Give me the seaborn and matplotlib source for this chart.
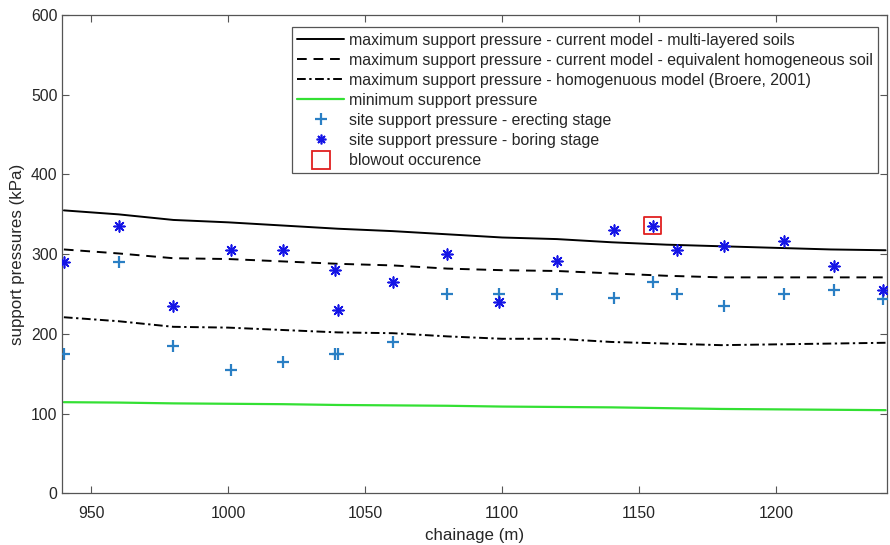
import matplotlib
matplotlib.use("Agg")
import matplotlib.pyplot as plt
from matplotlib.lines import Line2D
import seaborn as sns
import pandas as pd

# ---- data ----
chainage_model = [940, 960, 980, 1000, 1020, 1040, 1060, 1080, 1100, 1120,
                  1140, 1160, 1180, 1200, 1220, 1240]
max_multilayer = [355, 350, 343, 340, 336, 332, 329, 325, 321, 319,
                  315, 312, 310, 308, 306, 305]
max_equivalent = [306, 301, 295, 294, 291, 288, 286, 282, 280, 279,
                  276, 273, 271, 271, 271, 271]
max_broere = [221, 216, 209, 208, 205, 202, 201, 197, 194, 194,
              190, 188, 186, 187, 188, 189]
min_support = [114.5, 114, 113, 112.5, 112, 111, 110.5, 110, 109, 108.5,
               108, 107, 106, 105.5, 105, 104.5]

chainage_site = [940, 960, 980, 1001, 1020, 1039, 1040, 1060, 1080, 1099,
                 1120, 1141, 1155, 1164, 1181, 1203, 1221, 1239]
site_erecting = [175, 290, 185, 155, 165, 175, 175, 190, 250, 250,
                 250, 245, 265, 250, 235, 250, 255, 244]
site_boring = [290, 335, 235, 305, 305, 280, 230, 265, 300, 240,
               291, 330, 336, 305, 310, 316, 285, 255]

blowout_chainage = [1155]
blowout_pressure = [336]

labels = [
    "maximum support pressure - current model - multi-layered soils",
    "maximum support pressure - current model - equivalent homogeneous soil",
    "maximum support pressure - homogenuous model (Broere, 2001)",
    "minimum support pressure",
    "site support pressure - erecting stage",
    "site support pressure - boring stage",
    "blowout occurence",
]

# ---- style ----
sns.set_style("ticks")
plt.rcParams["font.family"] = ["Liberation Sans", "DejaVu Sans"]
axc = "#262626"
plt.rcParams.update({
    "axes.edgecolor": "#555555",
    "xtick.color": "#555555",
    "ytick.color": "#555555",
    "xtick.labelcolor": axc,
    "ytick.labelcolor": axc,
    "axes.labelcolor": axc,
    "xtick.direction": "in",
    "ytick.direction": "in",
})

fig = plt.figure(figsize=(8.9, 5.45), dpi=100)
ax = fig.add_axes([0.0702, 0.0945, 0.9264, 0.878])

dm = pd.DataFrame({"x": chainage_model, "a": max_multilayer, "b": max_equivalent,
                   "c": max_broere, "d": min_support})
ds = pd.DataFrame({"x": chainage_site, "e": site_erecting, "f": site_boring})
db = pd.DataFrame({"x": blowout_chainage, "y": blowout_pressure})

dash = (0, (5, 3.5))
dashdot = (0, (4.5, 1.8, 1.2, 1.8))
green = "#33e033"

sns.lineplot(data=dm, x="x", y="a", ax=ax, color="black", lw=1.4, ls="-")
sns.lineplot(data=dm, x="x", y="b", ax=ax, color="black", lw=1.4, ls=dash)
sns.lineplot(data=dm, x="x", y="c", ax=ax, color="black", lw=1.4, ls=dashdot)
sns.lineplot(data=dm, x="x", y="d", ax=ax, color=green, lw=1.6, ls="-")

plus_c = "#2a7fc4"
star_c = "#1515e6"
ast = (8, 2, 0)
sns.scatterplot(data=ds, x="x", y="e", ax=ax, marker="+", color=plus_c, s=70,
                linewidth=1.6, zorder=3)
sns.scatterplot(data=ds, x="x", y="f", ax=ax, marker=ast, color=star_c,
                edgecolor=star_c, s=60, linewidth=1.2, zorder=3)
sns.scatterplot(data=db, x="x", y="y", ax=ax, marker="s", facecolor="none",
                edgecolor="#e02020", s=150, linewidth=1.3, zorder=4)

ax.set_xlim(939.5, 1240.5)
ax.set_ylim(0, 600)
ax.set_xticks([950, 1000, 1050, 1100, 1150, 1200])
ax.set_yticks([0, 100, 200, 300, 400, 500, 600])
ax.tick_params(axis="both", labelsize=11.3, length=5, width=0.8,
               top=True, right=True)
ax.tick_params(axis="x", pad=9)
ax.set_xlabel("chainage (m)", fontsize=12.2, labelpad=5)
ax.set_ylabel("support pressures (kPa)", fontsize=12.2, labelpad=4)
for sp in ax.spines.values():
    sp.set_linewidth(0.9)

handles = [
    Line2D([], [], color="black", lw=1.4, ls="-"),
    Line2D([], [], color="black", lw=1.4, ls=dash),
    Line2D([], [], color="black", lw=1.4, ls=dashdot),
    Line2D([], [], color=green, lw=1.6, ls="-"),
    Line2D([], [], color=plus_c, marker="+", ls="none", ms=8, mew=1.6),
    Line2D([], [], color=star_c, marker=ast, ls="none", ms=7, mew=1.2),
    Line2D([], [], color="#e02020", marker="s", ls="none", ms=13, mew=1.3,
           mfc="none"),
]
leg = ax.legend(handles, labels, loc="upper right",
                bbox_to_anchor=(0.9894, 0.9743), fontsize=11.4,
                handlelength=2.95, handletextpad=0.32, labelspacing=0.32,
                borderpad=0.34, borderaxespad=0, frameon=True, fancybox=False,
                edgecolor="#555555", framealpha=1)
leg.get_frame().set_linewidth(0.9)
for t in leg.get_texts():
    t.set_color(axc)

fig.savefig("out.png", dpi=100)
